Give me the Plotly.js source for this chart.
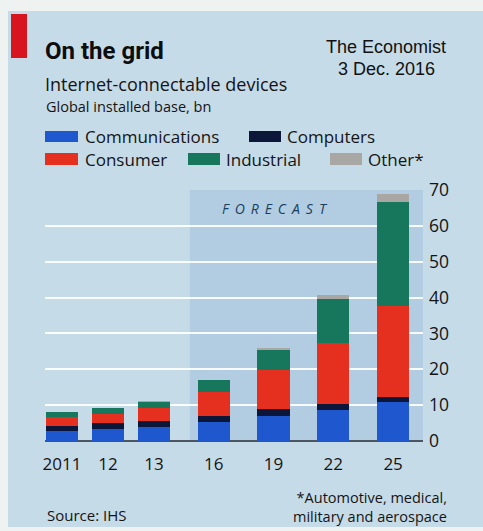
<!DOCTYPE html>
<html>
<head>
<meta charset="utf-8">
<script src="https://cdn.plot.ly/plotly-3.0.1.min.js"></script>
<style>
  html, body { margin: 0; padding: 0; background: #c6dbe8; }
  #chart { width: 483px; height: 531px; }
</style>
</head>
<body>
<div id="chart"></div>
<script>
// ---- Data (billions of devices) ----
const categories = ["2011", "12", "13", "16", "19", "22", "25"];
const communications = [2.9, 3.3, 3.8, 5.3, 7.1, 8.6, 10.8];
const computers      = [1.4, 1.8, 1.8, 1.7, 1.7, 1.6, 1.6];
const consumer       = [2.3, 2.5, 3.6, 6.8, 10.9, 17.1, 25.2];
const industrial     = [1.4, 1.5, 1.7, 3.1, 5.6, 12.2, 29.0];
const other          = [0.1, 0.1, 0.15, 0.2, 0.6, 1.3, 2.3];
const seriesNames = ["Communications", "Computers", "Consumer", "Industrial", "Other*"];
const yTicks = [0, 10, 20, 30, 40, 50, 60, 70];

// ---- Styles / layout ----
const colors = ["#1f57cf", "#0b1638", "#e5301f", "#17775c", "#a9a7a4"];
const FONT = "Open Sans, Lato, sans-serif";
const TXT = "#141414";
const W = 483, H = 531;
const M = {l: 45, r: 60, t: 190, b: 90};
const PW = W - M.l - M.r, PH = H - M.t - M.b;
const xp = x => (x - M.l) / PW;          // pixel -> paper
const yp = y => (H - M.b - y) / PH;

// forecast years are spaced wider than the actual years
const xpos = categories.map((c, i) => i + 0.3 * Math.max(0, i - 2));

const allSeries = [communications, computers, consumer, industrial, other];
const traces = allSeries.map((vals, k) => ({
  type: "bar",
  x: xpos,
  y: vals,
  name: seriesNames[k],
  width: 0.7,
  marker: {color: colors[k], line: {width: 0}},
  hoverinfo: "skip"
}));

// legend layout (pixel positions)
const legendPos = [
  {x0: 45, x1: 78, y0: 131, y1: 142, tx: 83, ty: 136.5},
  {x0: 249, x1: 281, y0: 131, y1: 142, tx: 285, ty: 136.5},
  {x0: 45, x1: 78, y0: 153, y1: 165, tx: 83, ty: 159},
  {x0: 188, x1: 220, y0: 153, y1: 165, tx: 224, ty: 159},
  {x0: 330, x1: 362, y0: 153, y1: 165, tx: 366, ty: 159}
];

const shapes = [
  // light paper edges
  {type: "rect", xref: "paper", yref: "paper", x0: xp(0), x1: xp(W), y0: yp(0), y1: yp(11),
   fillcolor: "#eef2f1", line: {width: 0}, layer: "below"},
  {type: "rect", xref: "paper", yref: "paper", x0: xp(0), x1: xp(8), y0: yp(0), y1: yp(H),
   fillcolor: "#eef2f1", line: {width: 0}, layer: "below"},
  {type: "rect", xref: "paper", yref: "paper", x0: xp(0), x1: xp(W), y0: yp(527), y1: yp(H),
   fillcolor: "#eef2f1", line: {width: 0}, layer: "below"},
  // red tag
  {type: "rect", xref: "paper", yref: "paper", x0: xp(11), x1: xp(27), y0: yp(14), y1: yp(58),
   fillcolor: "#d8141f", line: {width: 0}},
  // forecast shading
  {type: "rect", xref: "x", yref: "y", x0: 2.78, x1: 7.85, y0: 0, y1: 70,
   fillcolor: "#a9c8de", opacity: 0.7, line: {width: 0}, layer: "below"}
];
legendPos.forEach((p, k) => shapes.push({
  type: "rect", xref: "paper", yref: "paper",
  x0: xp(p.x0), x1: xp(p.x1), y0: yp(p.y0), y1: yp(p.y1),
  fillcolor: colors[k], line: {width: 0}
}));

const ann = (text, x, y, size, opts = {}) => Object.assign({
  text, xref: "paper", yref: "paper", x: xp(x), y: yp(y),
  xanchor: "left", yanchor: "middle", showarrow: false,
  font: {family: FONT, size, color: TXT}
}, opts);

const ARIAL = "Liberation Sans, Arial, sans-serif";
const gap = " \u2009";
const annotations = [
  ann("<b>On the grid</b>", 43, 51, 24, {font: {family: "Roboto, " + FONT, size: 24, color: "#0d0d0d"}}),
  ann("The Economist", 386, 47, 18, {xanchor: "center", font: {family: ARIAL, size: 18, color: "#111"}}),
  ann("3 Dec. 2016", 386, 69, 18, {xanchor: "center", font: {family: ARIAL, size: 18, color: "#111"}}),
  ann("Internet-connectable devices", 43, 84, 18),
  ann("Global installed base, bn", 44, 106, 14.5),
  ann("<i>" + "FORECAST".split("").join(gap) + "</i>", 275, 208, 14,
      {xanchor: "center", font: {family: FONT, size: 14, color: "#173f60"}}),
  ann("Source: IHS", 45, 515, 15),
  ann("*Automotive, medical,<br>military and aerospace", 449, 507, 14.5, {xanchor: "right", align: "right"})
];
legendPos.forEach((p, k) => annotations.push(ann(seriesNames[k], p.tx, p.ty, 17)));

const layout = {
  width: W, height: H,
  margin: M,
  paper_bgcolor: "#c6dbe8",
  plot_bgcolor: "rgba(0,0,0,0)",
  barmode: "stack",
  bargap: 0,
  showlegend: false,
  font: {family: FONT, color: TXT},
  xaxis: {
    range: [-0.37, 7.85],
    tickmode: "array",
    tickvals: xpos,
    ticktext: categories,
    showgrid: false, zeroline: false, showline: false, ticks: "",
    ticklabelstandoff: 11,
    tickfont: {family: FONT, size: 17, color: TXT},
    fixedrange: true
  },
  yaxis: {
    range: [0, 70],
    side: "right",
    tickmode: "array",
    tickvals: yTicks,
    ticktext: yTicks.map(String),
    showgrid: true, gridcolor: "rgba(255,255,255,0.9)", gridwidth: 2,
    zeroline: true, zerolinecolor: "#4b5660", zerolinewidth: 1.5,
    showline: false, ticks: "",
    ticklabelstandoff: 5,
    tickfont: {family: FONT, size: 17.5, color: TXT},
    fixedrange: true
  },
  shapes, annotations
};

Plotly.newPlot("chart", traces, layout, {displayModeBar: false, staticPlot: true});
</script>
</body>
</html>
